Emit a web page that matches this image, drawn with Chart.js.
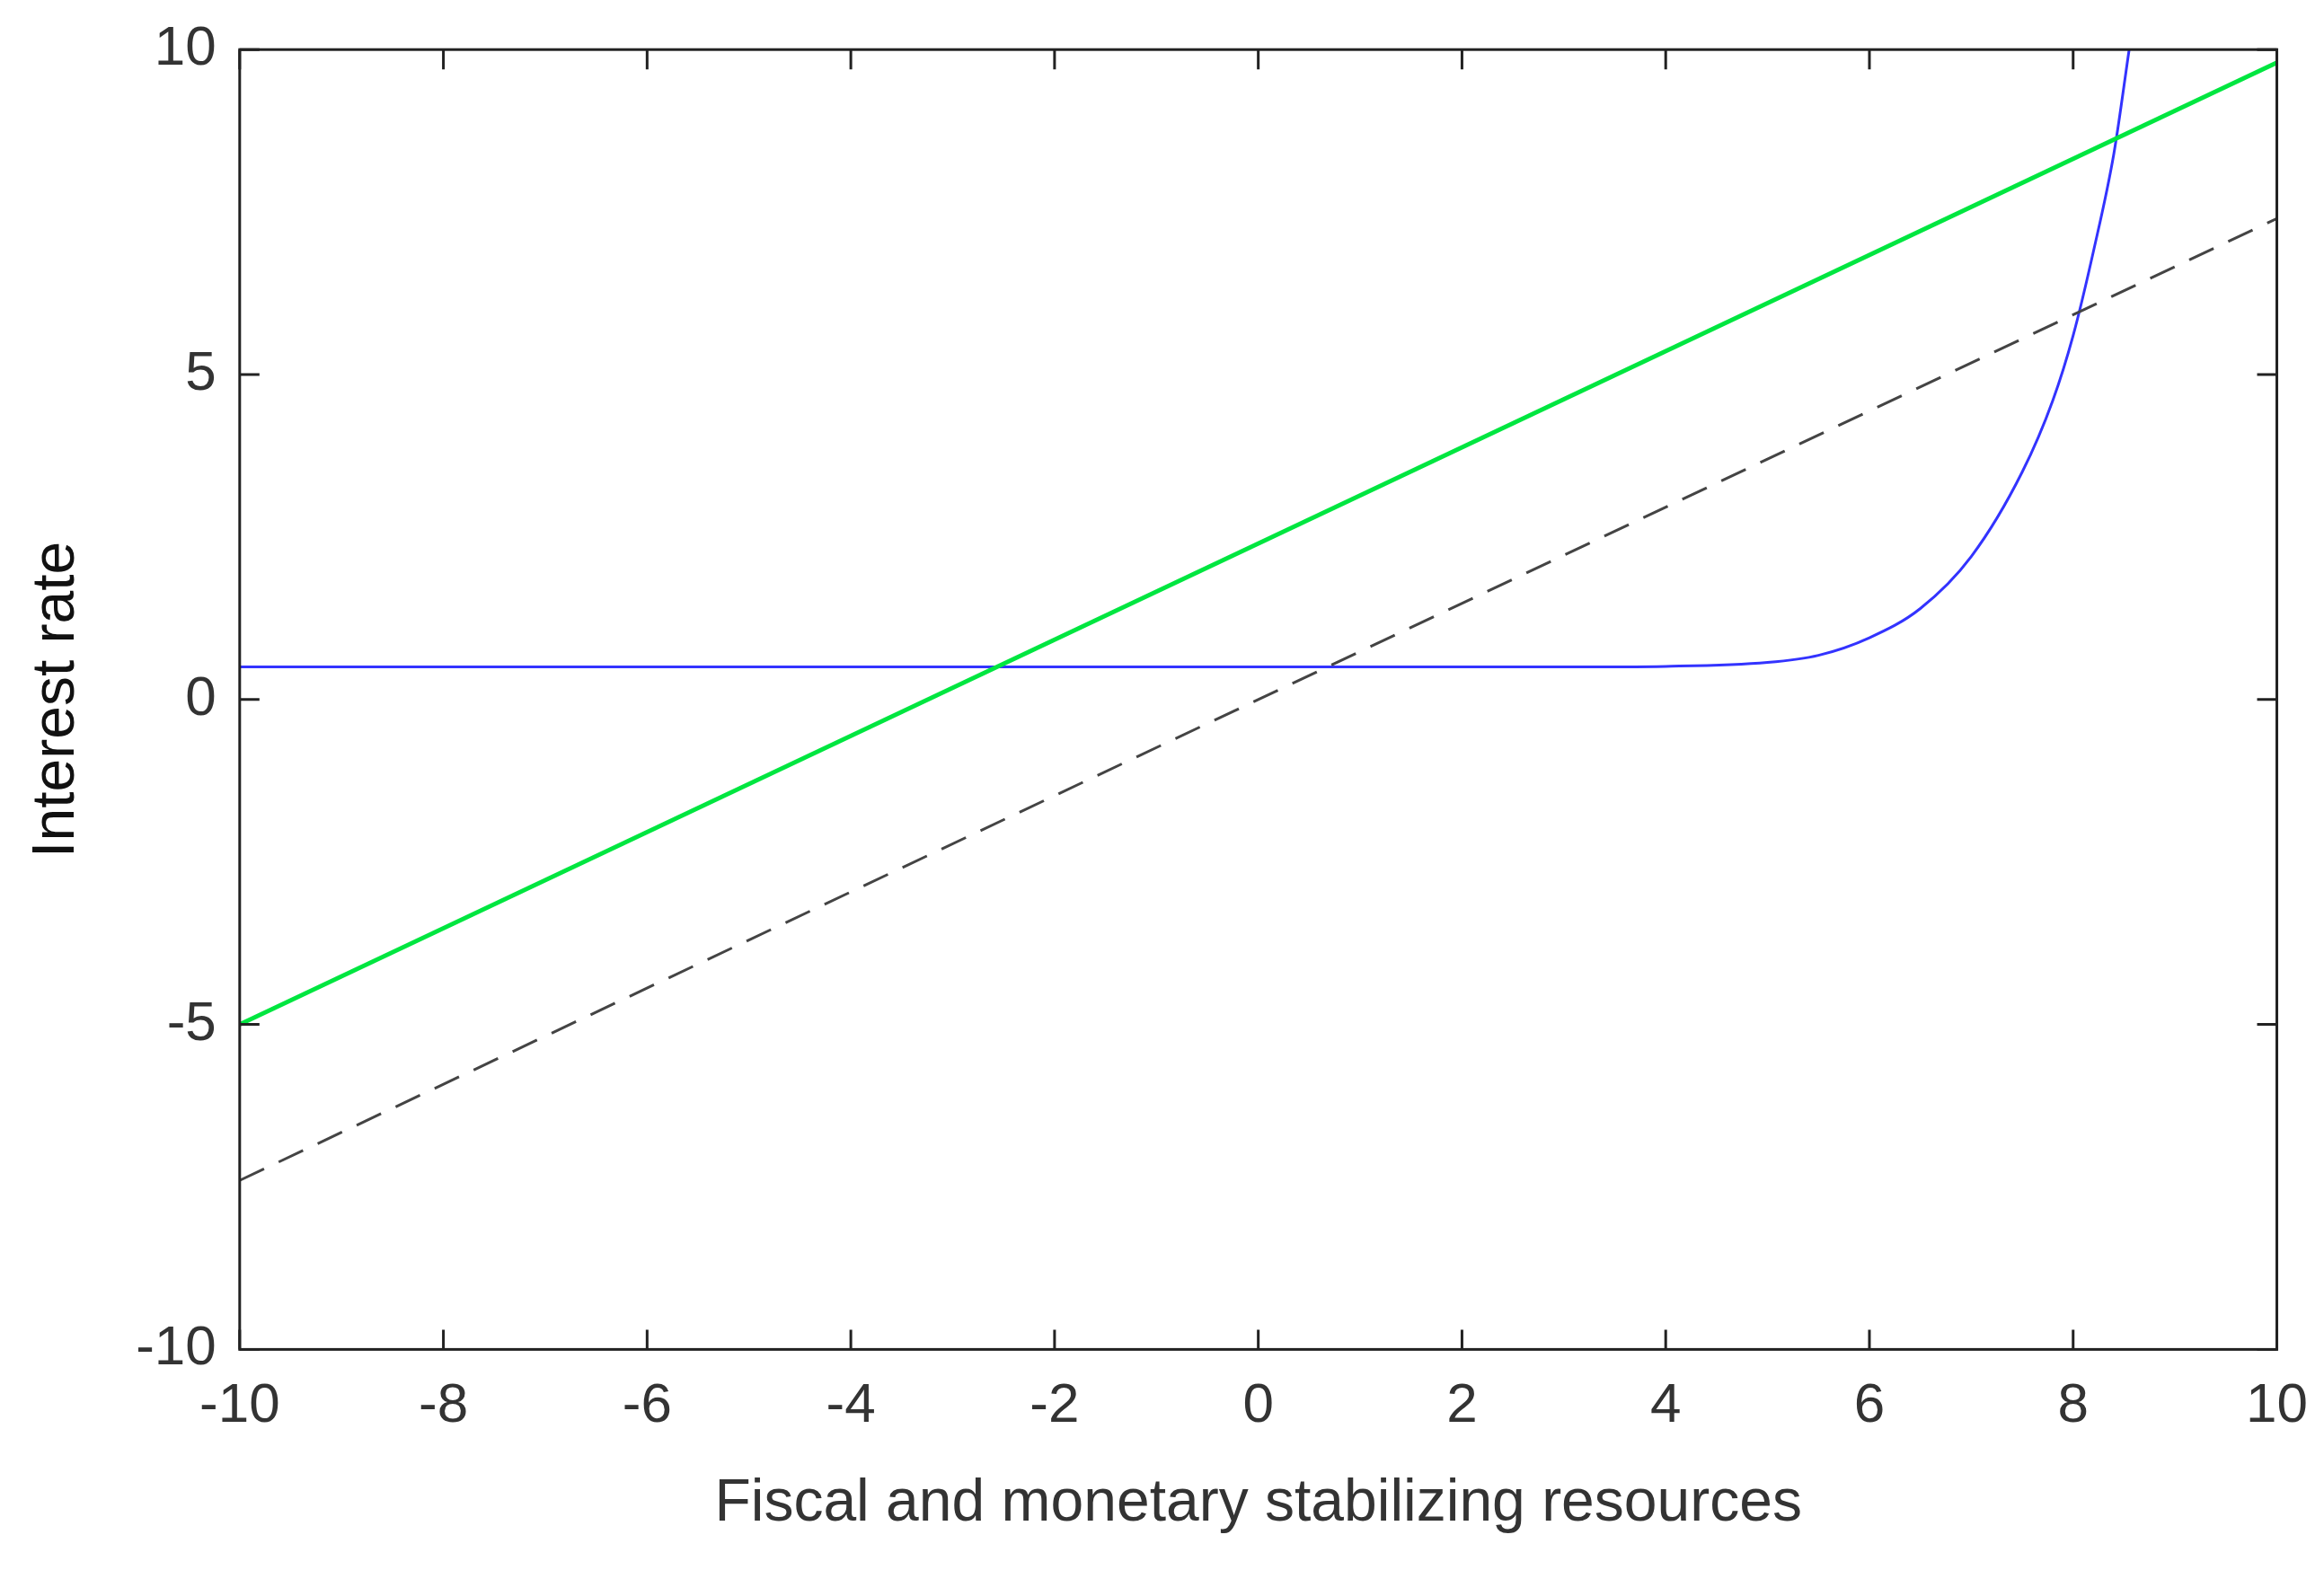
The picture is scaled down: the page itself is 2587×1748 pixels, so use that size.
<!DOCTYPE html>
<html>
<head>
<meta charset="utf-8">
<script src="https://cdn.jsdelivr.net/npm/chart.js@4"></script>
<style>
  html, body { margin: 0; background: #fff; }
  #wrap { width: 2587px; height: 1748px; }
</style>
</head>
<body>
<div id="wrap"><canvas id="c"></canvas></div>
<script>
const xTicks = [-10, -8, -6, -4, -2, 0, 2, 4, 6, 8, 10]
const yTicks = [-10, -5, 0, 5, 10]

const greenX = [-10, 10]
const greenY = [-5, 9.8]

const dashX = [-10, 10]
const dashY = [-7.4, 7.4]

const blueX = [-10, 0, 3, 4, 5, 5.5, 6, 6.5, 7, 7.5, 7.8, 8, 8.2, 8.4, 8.55]
const blueY = [0.5, 0.5, 0.5, 0.51, 0.57, 0.68, 0.95, 1.4, 2.2, 3.5, 4.6, 5.6, 6.9, 8.4, 10]

const toPoints = (xs, ys) => xs.map((x, i) => ({ x, y: ys[i] }))

const textColor = "#333333"
const font = { family: "Arial, 'Liberation Sans', sans-serif", size: 62 }

// inward tick marks and the frame around the plot
const frameTicks = {
    id: "frameTicks",
    afterDraw(chart) {
        const { ctx, chartArea: a, scales: { x, y } } = chart
        const len = 22
        ctx.save()
        ctx.strokeStyle = "#222"
        ctx.lineWidth = 3
        ctx.strokeRect(a.left, a.top, a.right - a.left, a.bottom - a.top)
        ctx.beginPath()
        xTicks.forEach(v => {
            const px = x.getPixelForValue(v)
            ctx.moveTo(px, a.bottom); ctx.lineTo(px, a.bottom - len)
            ctx.moveTo(px, a.top); ctx.lineTo(px, a.top + len)
        })
        yTicks.forEach(v => {
            const py = y.getPixelForValue(v)
            ctx.moveTo(a.left, py); ctx.lineTo(a.left + len, py)
            ctx.moveTo(a.right, py); ctx.lineTo(a.right - len, py)
        })
        ctx.stroke()
        ctx.restore()
    },
}

new Chart(document.getElementById("c"), {
    type: "scatter",
    data: {
        datasets: [
            {
                data: toPoints(dashX, dashY),
                showLine: true,
                borderColor: "#444",
                borderWidth: 3,
                borderDash: [30, 18],
                pointRadius: 0,
            },
            {
                data: toPoints(greenX, greenY),
                showLine: true,
                borderColor: "#00e640",
                borderWidth: 5,
                pointRadius: 0,
            },
            {
                data: toPoints(blueX, blueY),
                showLine: true,
                borderColor: "#3333ff",
                borderWidth: 3,
                cubicInterpolationMode: "monotone",
                pointRadius: 0,
            },
        ],
    },
    options: {
        responsive: true,
        maintainAspectRatio: false,
        animation: false,
        layout: { padding: { left: 20, right: 30, top: 55, bottom: 30 } },
        plugins: { legend: { display: false }, tooltip: { enabled: false } },
        scales: {
            x: {
                type: "linear",
                min: -10,
                max: 10,
                afterBuildTicks: s => { s.ticks = xTicks.map(value => ({ value })) },
                grid: { display: false },
                border: { display: false },
                ticks: { color: textColor, font, padding: 18 },
                title: {
                    display: true,
                    text: "Fiscal and monetary stabilizing resources",
                    color: textColor,
                    font: { ...font, size: 66 },
                    padding: { top: 14 },
                },
            },
            y: {
                type: "linear",
                min: -10,
                max: 10,
                afterBuildTicks: s => { s.ticks = yTicks.map(value => ({ value })) },
                grid: { display: false },
                border: { display: false },
                ticks: { color: textColor, font, padding: 18 },
                title: {
                    display: true,
                    text: "Interest rate",
                    color: "#111",
                    font: { ...font, size: 66 },
                    padding: { bottom: 30 },
                },
            },
        },
    },
    plugins: [frameTicks],
})
</script>
</body>
</html>
